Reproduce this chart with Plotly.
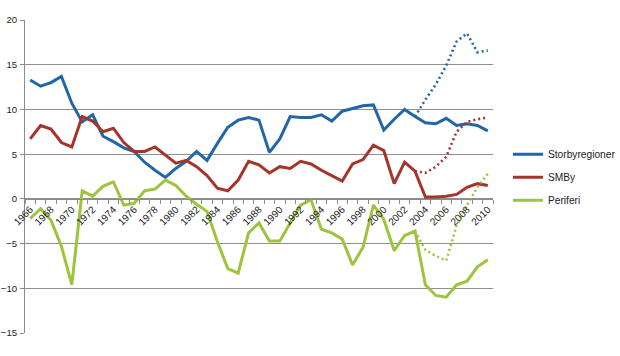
import plotly.graph_objects as go

years = list(range(1966, 2011))
storby = [13.3, 12.6, 13.0, 13.7, 10.7, 8.6, 9.4, 7.0, 6.4, 5.7, 5.3, 4.1, 3.2, 2.4, 3.4,
          4.2, 5.3, 4.3, 6.2, 8.0, 8.8, 9.1, 8.8, 5.2, 6.7, 9.2, 9.1, 9.1, 9.4, 8.7,
          9.8, 10.1, 10.4, 10.5, 7.7, 8.9, 10.0, 9.2, 8.5, 8.4, 9.0, 8.2, 8.4, 8.2, 7.6]
smby = [6.7, 8.2, 7.8, 6.3, 5.8, 9.2, 8.7, 7.5, 7.9, 6.3, 5.3, 5.3, 5.8, 4.9, 4.0,
        4.3, 3.6, 2.6, 1.2, 0.9, 2.1, 4.2, 3.8, 2.9, 3.6, 3.4, 4.2, 3.9, 3.2, 2.6,
        2.0, 3.9, 4.4, 6.0, 5.4, 1.7, 4.1, 3.1, 0.2, 0.2, 0.3, 0.5, 1.3, 1.7, 1.5]
periferi = [-2.2, -1.1, -2.4, -5.3, -9.6, 0.9, 0.3, 1.4, 1.9, -0.7, -0.5, 0.9, 1.1, 2.1, 1.5,
            0.3, -0.6, -1.4, -4.8, -7.8, -8.3, -3.8, -2.7, -4.7, -4.7, -2.7, -0.7, -0.1, -3.4, -3.8,
            -4.5, -7.4, -5.4, -0.7, -2.3, -5.8, -4.1, -3.6, -9.6, -10.8, -11.0, -9.6, -9.2, -7.6, -6.8]

alt_years = list(range(2003, 2011))
storby_alt = [9.2, 11.1, 12.8, 14.9, 17.6, 18.5, 16.4, 16.6]
smby_alt = [3.1, 2.9, 3.6, 4.7, 7.5, 8.6, 8.9, 9.1]
periferi_alt = [-3.6, -5.7, -6.4, -6.9, -3.0, -0.7, 1.3, 2.8]

names = ["Storbyregioner", "SMBy", "Periferi"]
colors = ["#2266A6", "#A5352A", "#9DC43C"]
tick_years = list(range(1966, 2011, 2))
y_ticks = [-15, -10, -5, 0, 5, 10, 15, 20]

fig = go.Figure()
for name, vals, col in zip(names, [storby, smby, periferi], colors):
    fig.add_trace(go.Scatter(x=years, y=vals, mode="lines", name=name,
                             line=dict(color=col, width=3), legendgroup=name))
for name, alt, col in zip(names, [storby_alt, smby_alt, periferi_alt], colors):
    fig.add_trace(go.Scatter(x=alt_years, y=alt, mode="lines", showlegend=False,
                             line=dict(color=col, width=2.6, dash="2px,3px")))

fig.update_layout(
    width=640, height=356,
    margin=dict(l=25, r=147, t=20, b=23),
    paper_bgcolor="white", plot_bgcolor="white",
    font=dict(family="Liberation Sans, Arial, sans-serif", size=10, color="#222222"),
    legend=dict(x=1.032, y=0.498, xanchor="left", yanchor="middle",
                font=dict(size=10.2), tracegroupgap=4, bgcolor="rgba(0,0,0,0)"),
    xaxis=dict(range=[1965.5, 2010.5], tickmode="array", tickvals=tick_years,
               ticktext=[str(y) for y in tick_years], tickangle=-45, ticks="",
               showgrid=False, showline=True, linecolor="#8c8c8c", linewidth=1,
               anchor="free", position=15/35, zeroline=False, automargin=False,
               minor=dict(ticks="outside", tick0=1965.5, dtick=1, ticklen=4,
                          tickcolor="#8c8c8c", showgrid=False)),
    yaxis=dict(range=[-15, 20], tickvals=y_ticks, showgrid=True, gridcolor="#8f8f8f",
               gridwidth=1, zeroline=False, showline=True, linecolor="#8c8c8c",
               ticks="outside", ticklen=4, tickcolor="#8c8c8c", automargin=False,
               ticklabelstandoff=1, tickfont=dict(size=9.6)),
)

fig.write_html("out.html", config={"displayModeBar": False},
               post_script="document.body.style.margin='0';")
